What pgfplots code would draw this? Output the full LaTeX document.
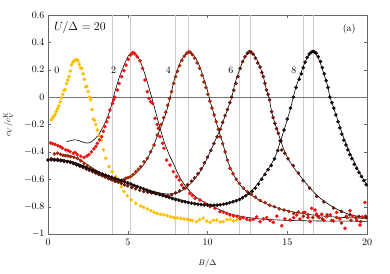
\documentclass[border=0pt]{standalone}
\usepackage{pgfplots}
\pgfplotsset{compat=1.18}
\definecolor{c0}{RGB}{255,190,0}
\definecolor{c2}{RGB}{238,20,20}
\definecolor{c4}{RGB}{165,38,8}
\definecolor{c6}{RGB}{105,22,10}
\definecolor{c8}{RGB}{25,8,8}
\begin{document}
\begin{tikzpicture}
\begin{axis}[
 scale only axis, width=319bp, height=219bp,
 xmin=0, xmax=20, ymin=-1, ymax=0.6,
 xtick={0,5,10,15,20},
 ytick={-1,-0.8,-0.6,-0.4,-0.2,0,0.2,0.4,0.6},
 tick align=inside, major tick length=3bp,
 axis line style={black!60},
 tick style={black!60},
 xticklabel style={yshift=-1.5bp},
 extra x ticks={4,5.15,8,8.82,12,12.67,16,16.63},
 extra x tick labels={},
 extra x tick style={grid=major, major grid style={black!20, line width=0.5pt}, tick style={draw=none}},
 xlabel={\footnotesize $B/\Delta$},
 ylabel={\footnotesize $c_V/c_V^{\mathrm{K}}$},
 xlabel style={at={(rel axis cs:0.5,-0.1356)}, anchor=center},
 ylabel style={at={(rel axis cs:-0.124,0.5)}, anchor=center},
 clip=true,
]
\addplot[black!55, line width=0.5pt, forget plot] coordinates {(0,0) (20,0)};

% series 0 (gold)
\addplot[only marks, mark=*, mark size=1.6pt, color=c0] coordinates {
(0.20,-0.165) (0.28,-0.155) (0.36,-0.140) (0.44,-0.125) (0.52,-0.105) (0.60,-0.085)
(0.68,-0.065) (0.76,-0.035) (0.84,-0.005) (0.92,0.020) (1.00,0.050) (1.08,0.055)
(1.16,0.100) (1.24,0.125) (1.32,0.150) (1.40,0.190) (1.48,0.235) (1.56,0.255)
(1.64,0.265) (1.72,0.270) (1.80,0.275) (1.88,0.265) (1.96,0.240) (2.04,0.215)
(2.12,0.210) (2.20,0.170) (2.28,0.130) (2.36,0.075) (2.44,0.080) (2.52,0.040)
(2.60,0.000) (2.68,-0.020) (2.76,-0.090) (2.84,-0.160) (2.92,-0.170) (3.00,-0.200)
(3.09,-0.240) (3.20,-0.280) (3.34,-0.313) (3.47,-0.386) (3.62,-0.447) (3.82,-0.508)
(4.03,-0.545) (4.24,-0.581) (4.39,-0.618) (4.60,-0.654) (4.76,-0.690) (4.97,-0.720)
(5.22,-0.752) (5.50,-0.776) (5.81,-0.795) (6.00,-0.805) (6.23,-0.817) (6.45,-0.830)
(6.65,-0.842) (6.85,-0.850) (7.06,-0.856) (7.27,-0.860) (7.48,-0.866) (7.70,-0.875)
(7.90,-0.881) (8.10,-0.882) (8.32,-0.886) (8.53,-0.890) (8.74,-0.893) (8.90,-0.898)
(9.05,-0.903) (9.32,-0.910) (9.50,-0.895) (9.74,-0.885) (9.95,-0.905) (10.16,-0.915)
(10.37,-0.900) (10.58,-0.898) (10.80,-0.912) (10.99,-0.910) (11.20,-0.895) (11.41,-0.893)
(11.62,-0.905) (11.83,-0.898) (12.04,-0.890)
};

% series 2 (red)
\addplot[only marks, mark=*, mark size=1.6pt, color=c2] coordinates {
(0.17,-0.335) (0.30,-0.340) (0.45,-0.345) (0.63,-0.355) (0.78,-0.362) (0.90,-0.372)
(1.10,-0.385) (1.25,-0.390) (1.38,-0.398) (1.59,-0.410) (1.70,-0.405) (1.84,-0.420)
(2.05,-0.432) (2.26,-0.440) (2.45,-0.430) (2.57,-0.420) (2.72,-0.400) (2.88,-0.378)
(3.00,-0.360) (3.09,-0.338) (3.22,-0.313) (3.36,-0.289) (3.47,-0.250) (3.57,-0.216)
(3.68,-0.180) (3.78,-0.148) (3.89,-0.094) (4.05,-0.046) (4.12,-0.020) (4.20,0.000)
(4.35,0.052) (4.47,0.100) (4.62,0.150) (4.76,0.193) (4.89,0.234) (5.04,0.276)
(5.18,0.307) (5.28,0.322) (5.35,0.325) (5.45,0.315) (5.60,0.295) (5.77,0.266)
(5.93,0.210) (6.08,0.125) (6.23,0.040) (6.33,-0.010) (6.44,-0.033) (6.56,-0.046)
(6.71,-0.155) (6.85,-0.200) (6.92,-0.228) (7.02,-0.289) (7.19,-0.338) (7.27,-0.374)
(7.44,-0.460) (7.65,-0.496) (7.86,-0.545) (8.07,-0.581) (8.23,-0.606) (8.38,-0.642)
(8.59,-0.666) (8.90,-0.703) (9.05,-0.720) (9.22,-0.740) (9.53,-0.752) (9.84,-0.776)
(10.16,-0.800) (10.47,-0.812) (10.78,-0.837) (11.00,-0.840) (11.20,-0.849) (11.40,-0.860)
(11.62,-0.868) (11.85,-0.870) (12.04,-0.885) (12.25,-0.880) (12.46,-0.893) (12.66,-0.898)
(12.87,-0.893) (13.08,-0.875) (13.29,-0.910) (13.50,-0.890) (13.71,-0.880) (13.92,-0.900)
(14.13,-0.915) (14.35,-0.870) (14.65,-0.940) (14.85,-0.890) (15.17,-0.898) (15.40,-0.880)
(15.59,-0.861) (15.80,-0.890) (16.00,-0.844) (16.11,-0.842) (16.30,-0.880) (16.43,-0.910)
(16.53,-0.813) (16.74,-0.825) (16.84,-0.854) (17.00,-0.880) (17.16,-0.856) (17.30,-0.900)
(17.47,-0.873) (17.70,-0.860) (17.90,-0.905) (18.10,-0.842) (18.30,-0.890) (18.62,-0.958)
(18.75,-0.880) (18.93,-0.830) (19.10,-0.870) (19.35,-0.898) (19.56,-0.934) (19.70,-0.875)
(19.87,-0.769) (19.95,-0.880)
};

% series 4 (dark red)
\addplot[only marks, mark=*, mark size=1.6pt, color=c4] coordinates {
(0.40,-0.415) (0.59,-0.410) (0.79,-0.418) (0.95,-0.425) (1.10,-0.428) (1.26,-0.430)
(1.42,-0.435) (1.63,-0.440) (1.84,-0.447) (2.05,-0.465) (2.26,-0.484) (2.47,-0.500)
(2.68,-0.520) (2.85,-0.535) (2.99,-0.545) (3.15,-0.555) (3.30,-0.564) (3.46,-0.572)
(3.62,-0.581) (3.78,-0.590) (3.93,-0.598) (4.08,-0.605) (4.24,-0.613) (4.40,-0.616)
(4.56,-0.618) (4.72,-0.605) (4.87,-0.593) (5.03,-0.588) (5.18,-0.580) (5.34,-0.565)
(5.50,-0.545) (5.66,-0.528) (5.81,-0.508) (6.02,-0.472) (6.23,-0.447) (6.44,-0.400)
(6.65,-0.350) (6.85,-0.277) (6.96,-0.230) (7.10,-0.200) (7.25,-0.150) (7.38,-0.110)
(7.50,-0.060) (7.62,-0.010) (7.75,0.040) (7.88,0.100) (8.00,0.150) (8.12,0.190)
(8.25,0.230) (8.40,0.270) (8.55,0.300) (8.70,0.320) (8.82,0.330) (8.92,0.328)
(9.05,0.310) (9.20,0.285) (9.35,0.250) (9.50,0.210) (9.65,0.160) (9.78,0.110)
(9.90,0.070) (10.02,0.020) (10.15,-0.030) (10.28,-0.080) (10.42,-0.130) (10.55,-0.180)
(10.68,-0.235) (10.80,-0.290) (10.95,-0.340) (11.10,-0.400) (11.25,-0.460) (11.41,-0.520)
(11.60,-0.560) (11.80,-0.600) (12.00,-0.630) (12.25,-0.665) (12.50,-0.690) (12.75,-0.710)
(13.00,-0.730) (13.30,-0.755) (13.60,-0.770) (13.90,-0.790) (14.20,-0.800) (14.50,-0.815)
(14.80,-0.825) (15.10,-0.835) (15.40,-0.850) (15.70,-0.840) (16.00,-0.870) (16.30,-0.860)
(16.60,-0.880) (16.90,-0.870) (17.20,-0.890) (17.50,-0.860) (17.80,-0.900) (18.10,-0.880)
(18.40,-0.920) (18.70,-0.870) (19.00,-0.900) (19.30,-0.880) (19.60,-0.910) (19.90,-0.870)
};

% series 6 (brown)
\addplot[only marks, mark=*, mark size=1.6pt, color=c6] coordinates {
(0.20,-0.450) (0.40,-0.455) (0.60,-0.455) (0.80,-0.460) (1.00,-0.465) (1.20,-0.470)
(1.40,-0.475) (1.60,-0.485) (1.80,-0.495) (2.00,-0.505) (2.20,-0.515) (2.40,-0.525)
(2.60,-0.535) (2.80,-0.545) (3.00,-0.555) (3.20,-0.565) (3.40,-0.575) (3.60,-0.585)
(3.80,-0.595) (4.00,-0.603) (4.20,-0.612) (4.40,-0.620) (4.60,-0.630) (4.80,-0.640)
(5.00,-0.648) (5.25,-0.660) (5.50,-0.670) (5.75,-0.680) (6.00,-0.690) (6.25,-0.695)
(6.50,-0.700) (6.75,-0.705) (7.00,-0.710) (7.25,-0.715) (7.50,-0.720) (7.75,-0.712)
(8.00,-0.700) (8.25,-0.685) (8.50,-0.665) (8.75,-0.640) (9.00,-0.615) (9.20,-0.590)
(9.40,-0.560) (9.60,-0.525) (9.80,-0.480) (10.00,-0.440) (10.20,-0.390) (10.40,-0.340)
(10.60,-0.290) (10.80,-0.235) (10.95,-0.185) (11.10,-0.135) (11.25,-0.090) (11.40,-0.040)
(11.52,0.000) (11.65,0.050) (11.78,0.100) (11.90,0.150) (12.04,0.210) (12.20,0.260)
(12.35,0.295) (12.50,0.320) (12.62,0.332) (12.72,0.330) (12.85,0.315) (13.00,0.285)
(13.15,0.250) (13.29,0.220) (13.40,0.180) (13.50,0.150) (13.60,0.100) (13.70,0.052)
(13.80,0.020) (13.90,-0.020) (14.02,-0.106) (14.12,-0.150) (14.23,-0.192) (14.33,-0.230)
(14.44,-0.265) (14.55,-0.320) (14.65,-0.386) (14.85,-0.410) (15.05,-0.450) (15.38,-0.500)
(15.70,-0.555) (16.00,-0.610) (16.40,-0.665) (16.84,-0.725) (17.30,-0.765) (17.90,-0.810)
(18.40,-0.835) (18.93,-0.860) (19.50,-0.872) (19.95,-0.880)
};

% series 8 (black)
\addplot[only marks, mark=*, mark size=1.6pt, color=c8] coordinates {
(0.0,-0.460) (0.2,-0.458) (0.4,-0.460) (0.6,-0.462) (0.8,-0.465) (1.0,-0.468)
(1.2,-0.472) (1.4,-0.477) (1.6,-0.484) (1.8,-0.492) (2.0,-0.500) (2.2,-0.508)
(2.4,-0.517) (2.6,-0.526) (2.8,-0.535) (3.0,-0.544) (3.2,-0.553) (3.4,-0.562)
(3.6,-0.570) (3.8,-0.578) (4.0,-0.585) (4.2,-0.593) (4.4,-0.601) (4.6,-0.609)
(4.8,-0.617) (5.0,-0.626) (5.2,-0.635) (5.4,-0.644) (5.6,-0.653) (5.8,-0.662)
(6.0,-0.670) (6.2,-0.679) (6.4,-0.688) (6.6,-0.696) (6.8,-0.704) (7.0,-0.712)
(7.2,-0.720) (7.4,-0.727) (7.6,-0.734) (7.8,-0.741) (8.0,-0.748) (8.2,-0.754)
(8.4,-0.760) (8.6,-0.765) (8.8,-0.770) (9.0,-0.775) (9.2,-0.779) (9.4,-0.783)
(9.6,-0.786) (9.8,-0.788) (10.0,-0.789) (10.2,-0.790) (10.4,-0.790) (10.6,-0.789)
(10.8,-0.786) (11.0,-0.783) (11.2,-0.778) (11.4,-0.772) (11.6,-0.765) (11.8,-0.757)
(12.0,-0.748) (12.2,-0.735) (12.4,-0.720) (12.6,-0.705) (12.8,-0.688) (13.0,-0.665)
(13.2,-0.635) (13.4,-0.600) (13.6,-0.565) (13.8,-0.530) (14.0,-0.500) (14.2,-0.450)
(14.4,-0.390) (14.6,-0.320) (14.8,-0.240) (15.0,-0.160) (15.2,-0.080) (15.38,0.000)
(15.55,0.070) (15.75,0.130) (15.88,0.170) (16.0,0.215) (16.12,0.255) (16.25,0.290)
(16.38,0.315) (16.5,0.328) (16.6,0.333) (16.7,0.330) (16.82,0.320) (16.95,0.295)
(17.08,0.260) (17.2,0.215) (17.32,0.170) (17.44,0.120) (17.56,0.070) (17.68,0.000)
(17.80,-0.040) (17.92,-0.080) (18.05,-0.130) (18.18,-0.180) (18.30,-0.225) (18.42,-0.270)
(18.55,-0.315) (18.68,-0.350) (18.80,-0.385) (18.93,-0.420) (19.05,-0.450) (19.2,-0.490)
(19.35,-0.520) (19.5,-0.550) (19.65,-0.580) (19.8,-0.610) (19.95,-0.640)
};

% theory lines
\addplot[black, line width=0.6pt, smooth, no marks] coordinates {
(1.17,-0.326) (1.4,-0.318) (1.75,-0.312) (2.1,-0.325) (2.45,-0.336) (2.7,-0.328)
(2.84,-0.315) (3.0,-0.298) (3.16,-0.277) (3.35,-0.240) (3.57,-0.190) (3.75,-0.140)
(3.89,-0.094) (4.0,-0.050) (4.1,0.000) (4.22,0.050) (4.35,0.100) (4.5,0.155)
(4.72,0.220) (4.9,0.270) (5.03,0.300) (5.15,0.318) (5.31,0.326) (5.45,0.318)
(5.6,0.298) (5.77,0.265) (5.95,0.210) (6.1,0.160) (6.19,0.125) (6.35,0.060)
(6.5,0.000) (6.65,-0.065) (6.8,-0.130) (6.95,-0.195) (7.06,-0.240) (7.2,-0.295)
(7.33,-0.345) (7.44,-0.375) (7.65,-0.435) (7.86,-0.484) (8.07,-0.540) (8.28,-0.590)
(8.5,-0.630) (8.7,-0.662) (8.9,-0.690) (9.2,-0.722) (9.5,-0.748) (9.95,-0.776)
(10.5,-0.808) (10.99,-0.835) (11.5,-0.855) (12.0,-0.868) (12.66,-0.882) (13.5,-0.892)
(14.5,-0.898) (15.5,-0.902) (17,-0.905) (18.5,-0.906) (20,-0.907)
};
\addplot[black, line width=0.6pt, smooth, no marks] coordinates {
(0.9,-0.420) (1.3,-0.425) (1.7,-0.440) (2.1,-0.465) (2.5,-0.495) (2.9,-0.525)
(3.3,-0.553) (3.7,-0.575) (4.1,-0.592) (4.5,-0.602) (4.8,-0.602) (5.1,-0.590)
(5.4,-0.568) (5.7,-0.535) (6.02,-0.490) (6.25,-0.445) (6.44,-0.400) (6.6,-0.360)
(6.85,-0.285) (7.06,-0.225) (7.2,-0.180) (7.36,-0.130) (7.5,-0.075) (7.67,0.000)
(7.86,0.100) (8.05,0.180) (8.28,0.250) (8.5,0.295) (8.7,0.320) (8.85,0.326)
(9.0,0.320) (9.2,0.295) (9.35,0.265) (9.53,0.220) (9.75,0.140) (9.95,0.070)
(10.1,0.000) (10.28,-0.075) (10.47,-0.150) (10.68,-0.235) (10.85,-0.295) (11.0,-0.355)
(11.2,-0.440) (11.41,-0.510) (11.7,-0.580) (12.0,-0.635) (12.46,-0.690) (13.0,-0.735)
(13.5,-0.770) (14.13,-0.800) (15.0,-0.830) (16.22,-0.855) (17.5,-0.872) (19,-0.882)
(20,-0.886)
};
\addplot[black, line width=0.6pt, smooth, no marks] coordinates {
(0.8,-0.455) (1.5,-0.470) (2.0,-0.490) (2.5,-0.515) (3.0,-0.540) (3.5,-0.565)
(4.0,-0.588) (4.5,-0.610) (5.0,-0.632) (5.5,-0.652) (6.0,-0.670) (6.5,-0.686)
(7.0,-0.700) (7.44,-0.708) (7.86,-0.705) (8.28,-0.690) (8.69,-0.660) (9.11,-0.610)
(9.53,-0.545) (9.8,-0.490) (10.05,-0.430) (10.3,-0.365) (10.55,-0.300) (10.78,-0.240)
(11.0,-0.170) (11.24,-0.094) (11.52,0.000) (11.72,0.100) (11.9,0.165) (12.04,0.210)
(12.25,0.270) (12.45,0.310) (12.66,0.326) (12.85,0.318) (13.05,0.285) (13.29,0.222)
(13.5,0.150) (13.7,0.052) (13.87,-0.009) (14.02,-0.106) (14.23,-0.192) (14.44,-0.265)
(14.65,-0.340) (14.85,-0.400) (15.1,-0.460) (15.38,-0.510) (15.7,-0.560) (16.0,-0.605)
(16.4,-0.660) (16.84,-0.715) (17.3,-0.760) (17.9,-0.805) (18.4,-0.835) (18.93,-0.858)
(19.5,-0.872) (20,-0.882)
};
\addplot[black, line width=0.6pt, smooth, no marks] coordinates {
(0.5,-0.455) (1.0,-0.462) (1.5,-0.475) (2.0,-0.495) (2.5,-0.518) (3.0,-0.541)
(3.5,-0.565) (4.0,-0.587) (4.5,-0.608) (5.0,-0.628) (5.5,-0.648) (6.0,-0.668)
(6.5,-0.686) (7.0,-0.704) (7.5,-0.722) (8.0,-0.740) (8.5,-0.756) (9.0,-0.770)
(9.5,-0.781) (10.0,-0.787) (10.5,-0.788) (11.0,-0.782) (11.5,-0.768) (12.0,-0.745)
(12.4,-0.718) (12.8,-0.680) (13.2,-0.625) (13.6,-0.560) (14.0,-0.490) (14.3,-0.420)
(14.55,-0.330) (14.8,-0.240) (15.0,-0.165) (15.2,-0.085) (15.38,0.000) (15.55,0.075)
(15.75,0.140) (16.0,0.222) (16.2,0.275) (16.4,0.315) (16.6,0.326) (16.8,0.315)
(17.0,0.270) (17.15,0.222) (17.35,0.150) (17.51,0.090) (17.68,0.000) (17.85,-0.060)
(17.99,-0.106) (18.26,-0.200) (18.5,-0.285) (18.75,-0.360) (19.0,-0.425) (19.25,-0.485)
(19.5,-0.545) (19.75,-0.595) (20.0,-0.645)
};

\node at (axis cs:0.56,0.198) {0};
\node at (axis cs:4.12,0.198) {2};
\node at (axis cs:7.54,0.198) {4};
\node at (axis cs:11.47,0.198) {6};
\node at (axis cs:15.42,0.198) {8};
\node[anchor=west, font=\large] at (rel axis cs:0.008,0.942) {$U/\Delta = 20$};
\node at (rel axis cs:0.944,0.936) {(a)};
\end{axis}
\pgfresetboundingbox
\path ([xshift=-48bp,yshift=-40bp]current axis.south west) rectangle ([xshift=23bp,yshift=15bp]current axis.north east);
\end{tikzpicture}
\end{document}
